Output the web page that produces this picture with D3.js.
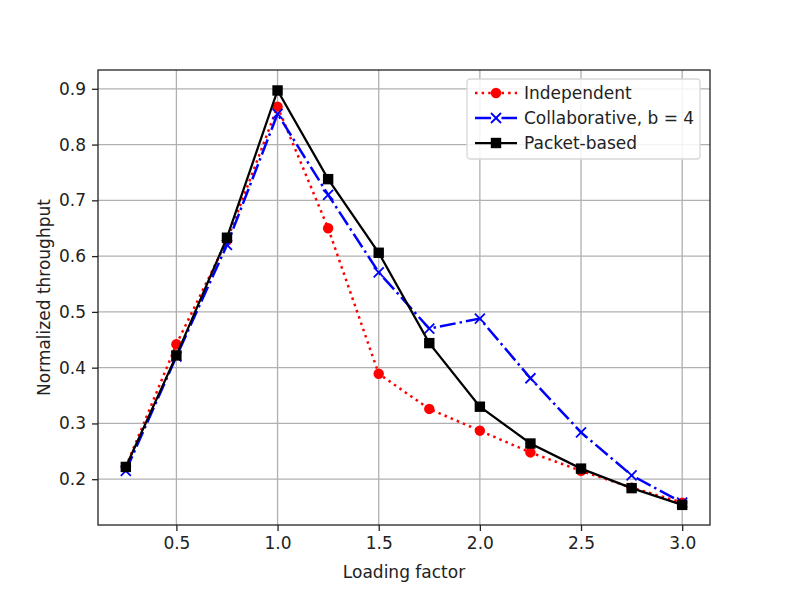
<!DOCTYPE html>
<html>
<head>
<meta charset="utf-8">
<script src="https://cdn.jsdelivr.net/npm/d3@7"></script>
<style>
  body { margin: 0; background: #fff; }
  text { font-family: "DejaVu Sans", sans-serif; fill: #222; }
</style>
</head>
<body>
<script>
// data
var loading = [0.25, 0.5, 0.75, 1.0, 1.25, 1.5, 1.75, 2.0, 2.25, 2.5, 2.75, 3.0];
var independent = [0.222, 0.442, 0.628, 0.868, 0.65, 0.389, 0.326, 0.287, 0.248, 0.215, 0.185, 0.158];
var collaborative = [0.215, 0.42, 0.62, 0.855, 0.71, 0.571, 0.47, 0.488, 0.381, 0.284, 0.207, 0.158];
var packetBased = [0.222, 0.422, 0.633, 0.897, 0.738, 0.606, 0.444, 0.33, 0.264, 0.219, 0.184, 0.154];
var xTicks = [0.5, 1.0, 1.5, 2.0, 2.5, 3.0];
var yTicks = [0.2, 0.3, 0.4, 0.5, 0.6, 0.7, 0.8, 0.9];
var seriesNames = ["Independent", "Collaborative, b = 4", "Packet-based"];

var width = 788, height = 590;
var margin = {top: 70, right: 78, bottom: 65, left: 98};
var lw = 2.5;

var svg = d3.select("body").append("svg")
    .attr("width", width)
    .attr("height", height);

var x = d3.scaleLinear().domain([0.1125, 3.1375]).range([margin.left, width - margin.right]);
var y = d3.scaleLinear().domain([0.1179, 0.9337]).range([height - margin.bottom, margin.top]);

// grid
var grid = svg.append("g");
grid.selectAll(".gx").data(xTicks).enter().append("line")
    .attr("x1", function(d) { return x(d); }).attr("x2", function(d) { return x(d); })
    .attr("y1", margin.top).attr("y2", height - margin.bottom)
    .attr("stroke", "#b0b0b0").attr("stroke-width", 1.3);
grid.selectAll(".gy").data(yTicks).enter().append("line")
    .attr("y1", function(d) { return y(d); }).attr("y2", function(d) { return y(d); })
    .attr("x1", margin.left).attr("x2", width - margin.right)
    .attr("stroke", "#b0b0b0").attr("stroke-width", 1.3);

// axes
svg.append("g")
    .attr("transform", "translate(0," + (height - margin.bottom) + ")")
    .call(d3.axisBottom(x).tickValues(xTicks).tickFormat(d3.format(".1f")).tickSizeOuter(0).tickSize(6).tickPadding(6))
    .call(function(g) { g.select(".domain").remove(); })
    .selectAll("text").style("font-size", "17px").attr("fill", "#222");
svg.append("g")
    .attr("transform", "translate(" + margin.left + ",0)")
    .call(d3.axisLeft(y).tickValues(yTicks).tickFormat(d3.format(".1f")).tickSizeOuter(0).tickSize(6).tickPadding(6))
    .call(function(g) { g.select(".domain").remove(); })
    .selectAll("text").style("font-size", "17px").attr("fill", "#222");
svg.selectAll(".tick line").attr("stroke", "#222").attr("stroke-width", 1.3);

var series = [
  {name: seriesNames[0], values: independent, color: "#ff0000", dash: [lw * 1, lw * 1.65], marker: "circle"},
  {name: seriesNames[1], values: collaborative, color: "#0000ff", dash: [lw * 6.4, lw * 1.6, lw * 1, lw * 1.6], marker: "x"},
  {name: seriesNames[2], values: packetBased, color: "#000000", dash: null, marker: "square"}
];

var line = d3.line()
    .x(function(d) { return x(d[0]); })
    .y(function(d) { return y(d[1]); });

function drawMarker(g, kind, color) {
  if (kind === "circle") {
    g.append("circle").attr("r", 5.2).attr("fill", color);
  } else if (kind === "square") {
    g.append("rect").attr("x", -5.2).attr("y", -5.2).attr("width", 10.4).attr("height", 10.4).attr("fill", color);
  } else {
    g.append("path").attr("d", "M-5,-5L5,5M-5,5L5,-5").attr("stroke", color).attr("stroke-width", 1.8).attr("fill", "none");
  }
}

series.forEach(function(s) {
  var pts = loading.map(function(v, i) { return [v, s.values[i]]; });
  svg.append("path")
      .datum(pts)
      .attr("d", line)
      .attr("fill", "none")
      .attr("stroke", s.color)
      .attr("stroke-width", s.dash ? lw : lw * 0.9)
      .attr("stroke-dasharray", s.dash ? s.dash.join(",") : null);
  pts.forEach(function(p) {
    var g = svg.append("g").attr("transform", "translate(" + x(p[0]) + "," + y(p[1]) + ")");
    drawMarker(g, s.marker, s.color);
  });
});

// frame
svg.append("rect")
    .attr("x", margin.left).attr("y", margin.top)
    .attr("width", width - margin.right - margin.left)
    .attr("height", height - margin.bottom - margin.top)
    .attr("fill", "none").attr("stroke", "#222").attr("stroke-width", 1.3);

// legend
var legend = svg.append("g").attr("transform", "translate(467,79)");
legend.append("rect")
    .attr("width", 233).attr("height", 80).attr("rx", 3)
    .attr("fill", "#fff").attr("fill-opacity", 0.85)
    .attr("stroke", "#d8d8d8").attr("stroke-width", 1.3);
series.forEach(function(s, i) {
  var yy = 14 + i * 25;
  legend.append("line")
      .attr("x1", 8).attr("x2", 50).attr("y1", yy).attr("y2", yy)
      .attr("stroke", s.color).attr("stroke-width", s.dash ? lw : lw * 0.9)
      .attr("stroke-dasharray", s.dash ? s.dash.join(",") : null);
  drawMarker(legend.append("g").attr("transform", "translate(29," + yy + ")"), s.marker, s.color);
  legend.append("text")
      .attr("x", 57).attr("y", yy).attr("dy", "0.35em")
      .style("font-size", "17px")
      .text(s.name);
});

// axis titles
svg.append("text")
    .attr("x", x(1.625)).attr("y", 578)
    .attr("text-anchor", "middle")
    .style("font-size", "17px")
    .text("Loading factor");
svg.append("text")
    .attr("transform", "translate(50," + (margin.top + (height - margin.bottom - margin.top) / 2) + ")rotate(-90)")
    .attr("text-anchor", "middle")
    .style("font-size", "17px")
    .text("Normalized throughput");
</script>
</body>
</html>
